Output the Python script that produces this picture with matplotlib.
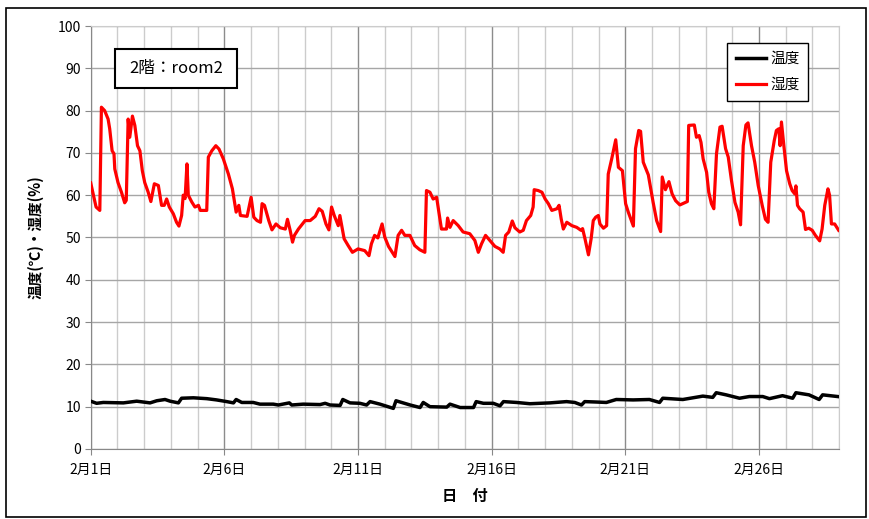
import matplotlib
matplotlib.use("Agg")
import matplotlib.pyplot as plt
from matplotlib.patches import Rectangle
from matplotlib.ticker import MultipleLocator

plt.rcParams['font.family'] = ['Noto Sans CJK JP', 'DejaVu Sans']

# humidity (%) : day offset from Feb 1 00:00 -> value
hum_day = [0.0, 0.2, 0.34, 0.4, 0.52, 0.65, 0.71, 0.8, 0.87, 0.9, 1.02, 1.15, 1.27, 1.33,
           1.4, 1.46, 1.56, 1.65, 1.75, 1.84, 1.93, 2.02, 2.15, 2.25, 2.38, 2.53, 2.65, 2.75,
           2.84, 2.94, 3.09, 3.21, 3.3, 3.4, 3.46, 3.53, 3.6, 3.65, 3.78, 3.9, 4.03, 4.1,
           4.34, 4.4, 4.53, 4.68, 4.8, 4.96, 5.15, 5.3, 5.44, 5.54, 5.6, 5.85, 6.0, 6.1,
           6.22, 6.35, 6.41, 6.5, 6.66, 6.78, 6.93, 7.09, 7.28, 7.36, 7.46, 7.55, 7.62, 7.77,
           8.02, 8.21, 8.4, 8.54, 8.66, 8.8, 8.91, 9.01, 9.11, 9.26, 9.32, 9.48, 9.63, 9.79,
           10.0, 10.25, 10.41, 10.5, 10.62, 10.74, 10.9, 11.0, 11.14, 11.38, 11.5, 11.63,
           11.75, 11.94, 12.12, 12.31, 12.5, 12.56, 12.69, 12.81, 12.94, 13.12, 13.31, 13.35,
           13.44, 13.56, 13.75, 13.93, 14.18, 14.37, 14.5, 14.62, 14.77, 14.93, 15.12, 15.3,
           15.43, 15.52, 15.64, 15.77, 15.87, 16.05, 16.18, 16.3, 16.46, 16.55, 16.59, 16.74,
           16.88, 17.0, 17.12, 17.25, 17.44, 17.52, 17.6, 17.68, 17.81, 18.0, 18.18, 18.34,
           18.4, 18.49, 18.62, 18.72, 18.8, 18.89, 18.99, 19.05, 19.18, 19.3, 19.36, 19.49,
           19.64, 19.74, 19.89, 20.01, 20.11, 20.3, 20.38, 20.5, 20.57, 20.67, 20.86, 21.04,
           21.17, 21.32, 21.38, 21.5, 21.63, 21.75, 21.88, 22.04, 22.22, 22.32, 22.37, 22.58,
           22.66, 22.76, 22.83, 22.91, 23.04, 23.12, 23.22, 23.31, 23.41, 23.54, 23.62, 23.75,
           23.85, 23.97, 24.1, 24.22, 24.31, 24.41, 24.51, 24.59, 24.72, 24.84, 24.97, 25.12,
           25.24, 25.34, 25.44, 25.57, 25.65, 25.74, 25.79, 25.84, 25.93, 26.03, 26.15, 26.24,
           26.34, 26.38, 26.44, 26.52, 26.65, 26.74, 26.86, 26.99, 27.11, 27.27, 27.36, 27.46,
           27.58, 27.64, 27.71, 27.83, 27.98]
hum_val = [62.9, 57.2, 56.4, 80.8, 80.0, 78.0, 75.7, 70.5, 69.8, 66.2, 63.0, 60.7, 58.2, 58.8,
           78.0, 73.7, 78.7, 76.5, 71.7, 70.5, 65.8, 63.0, 60.7, 58.5, 62.7, 62.3, 57.6, 57.6,
           59.1, 57.2, 55.6, 53.6, 52.7, 55.2, 60.0, 59.2, 67.4, 60.0, 58.4, 57.2, 57.6, 56.4,
           56.4, 69.0, 70.5, 71.7, 70.9, 68.6, 65.0, 61.5, 56.0, 57.6, 55.2, 55.0, 59.5, 54.8,
           54.0, 53.6, 58.0, 57.6, 54.0, 51.8, 53.2, 52.3, 52.0, 54.3, 51.7, 48.9, 50.5, 52.0,
           54.0, 54.0, 55.0, 56.8, 56.2, 53.2, 51.8, 57.2, 55.2, 52.8, 55.2, 49.7, 48.1, 46.5,
           47.3, 46.9, 45.7, 48.5, 50.5, 49.9, 53.2, 50.1, 47.9, 45.5, 50.5, 51.7,
           50.5, 50.5, 48.1, 47.1, 46.5, 61.1, 60.7, 59.1, 59.5, 52.0, 52.0, 54.6,
           52.4, 54.0, 52.8, 51.3, 50.9, 49.3, 46.5, 48.5, 50.5, 49.3, 47.9, 47.3,
           46.5, 50.5, 51.3, 53.9, 52.3, 51.3, 51.7, 54.0, 55.2, 57.2, 61.3, 61.1,
           60.7, 59.1, 58.0, 56.4, 56.8, 57.6, 54.4, 52.0, 53.6, 52.8, 52.4, 51.7,
           52.1, 49.7, 45.9, 49.7, 54.0, 54.8, 55.2, 53.2, 52.2, 52.8, 65.0, 68.6,
           73.1, 66.6, 65.8, 58.0, 56.0, 52.7, 71.0, 75.3, 75.1, 67.8, 64.8, 58.3,
           54.0, 51.4, 64.3, 61.3, 63.2, 60.3, 58.7, 57.7, 58.2, 58.5, 76.5, 76.6,
           73.7, 74.1, 72.5, 68.6, 65.4, 60.7, 58.0, 56.8, 69.8, 76.1, 76.3, 71.0,
           69.0, 63.5, 58.3, 56.0, 53.0, 71.7, 76.6, 77.1, 71.7, 67.8, 62.3, 57.6,
           54.3, 53.6, 67.8, 72.9, 75.3, 75.7, 71.7, 77.3, 71.7, 65.8, 62.7, 61.1,
           60.3, 62.2, 57.6, 56.8, 56.0, 51.9, 52.2, 51.7, 50.5, 49.2, 52.0, 57.6,
           61.5, 60.0, 53.2, 53.2, 51.7]

# temperature (deg C)
tmp_day = [0.0, 0.22, 0.47, 1.22, 1.72, 2.22, 2.47, 2.78, 2.97, 3.28, 3.4, 3.84, 4.34, 4.71,
           5.09, 5.34, 5.44, 5.65, 6.08, 6.33, 6.83, 7.02, 7.43, 7.52, 7.95, 8.58, 8.77, 8.95,
           9.33, 9.43, 9.7, 10.07, 10.32, 10.45, 10.82, 11.32, 11.42, 11.95, 12.32, 12.44,
           12.69, 13.32, 13.44, 13.82, 14.32, 14.42, 14.69, 15.06, 15.31, 15.44, 15.93, 16.43,
           17.18, 17.8, 18.11, 18.36, 18.48, 18.92, 19.29, 19.66, 20.29, 20.9, 21.28, 21.4,
           22.15, 22.9, 23.27, 23.4, 23.77, 24.27, 24.64, 25.14, 25.39, 25.88, 26.26, 26.38,
           26.87, 27.25, 27.38, 27.94]
tmp_val = [11.3, 10.8, 11.0, 10.9, 11.3, 10.9, 11.4, 11.7, 11.3, 10.9, 12.0, 12.1, 11.9, 11.6,
           11.2, 10.9, 11.7, 11.0, 11.0, 10.6, 10.6, 10.4, 10.9, 10.4, 10.6, 10.5, 10.8, 10.4,
           10.3, 11.7, 10.9, 10.8, 10.4, 11.2, 10.6, 9.6, 11.4, 10.4, 9.8, 11.0,
           10.0, 9.9, 10.6, 9.8, 9.8, 11.2, 10.8, 10.8, 10.2, 11.2, 11.0, 10.7,
           10.9, 11.2, 11.0, 10.4, 11.2, 11.1, 11.0, 11.7, 11.6, 11.7, 11.0, 12.0,
           11.7, 12.5, 12.2, 13.3, 12.8, 12.0, 12.4, 12.4, 11.9, 12.6, 12.0, 13.3,
           12.8, 11.7, 12.8, 12.4]

tick_days = [0, 5, 10, 15, 20, 25]
tick_labels = ['2月1日', '2月6日', '2月11日', '2月16日', '2月21日', '2月26日']

fig = plt.figure(figsize=(8.69, 5.19), dpi=100)
ax = fig.add_axes([0.1044, 0.1349, 0.8613, 0.815])

# outer frame of the chart
fig.patches.append(Rectangle((6 / 869, 2 / 519), 860 / 869, 509 / 519, transform=fig.transFigure,
                             fill=False, edgecolor='black', linewidth=1.2))

ax.plot(tmp_day, tmp_val, color='black', linewidth=2.5, label='温度', zorder=3)
ax.plot(hum_day, hum_val, color='#ff0000', linewidth=2.3, label='湿度', zorder=3)

ax.set_xlim(0, 28)
ax.set_ylim(0, 100)
ax.set_xticks(tick_days)
ax.set_xticklabels(tick_labels, fontsize=10)
ax.xaxis.set_minor_locator(MultipleLocator(1))
ax.yaxis.set_major_locator(MultipleLocator(10))
ax.tick_params(axis='y', labelsize=10, length=4, color='#888888', pad=3)
ax.tick_params(axis='x', which='major', length=4, color='#888888', pad=6)
ax.tick_params(axis='x', which='minor', length=0)

ax.grid(axis='y', which='major', color='#a6a6a6', linewidth=1.0)
ax.grid(axis='x', which='major', color='#8c8c8c', linewidth=1.0)
ax.grid(axis='x', which='minor', color='#cccccc', linewidth=1.0)
ax.set_axisbelow(True)
for side in ['top', 'right']:
    ax.spines[side].set_color('#cccccc')
for side in ['left', 'bottom']:
    ax.spines[side].set_color('#888888')

ax.set_ylabel('温度(℃)・湿度(%)', fontsize=10.5, fontweight='bold', labelpad=10)
ax.set_xlabel('日　付', fontsize=11, fontweight='bold', labelpad=8)

leg = ax.legend(loc='upper left', bbox_to_anchor=(727 / 869, 1 - 43 / 519),
                bbox_transform=fig.transFigure, borderaxespad=0, fontsize=10.5,
                fancybox=False, framealpha=1, edgecolor='black', handlelength=2.1,
                labelspacing=0.85, borderpad=0.6, handletextpad=0.25)
leg.get_frame().set_linewidth(1.0)

# room label box
fig.patches.append(Rectangle((115 / 869, 1 - 88 / 519), 122 / 869, 39 / 519,
                             transform=fig.transFigure, facecolor='white',
                             edgecolor='black', linewidth=1.5, zorder=5))
fig.text(176 / 869, 1 - 68.5 / 519, '2階：room2', ha='center', va='center',
         fontsize=12, zorder=6)

fig.savefig('out.png', dpi=100)
